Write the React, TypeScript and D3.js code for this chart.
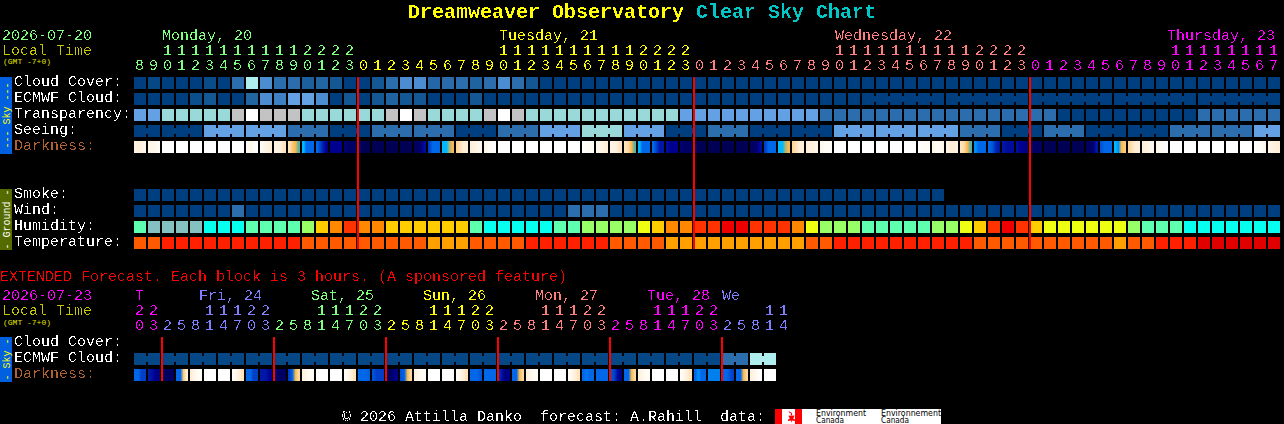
import React from "react";
import * as d3 from "d3";

// ---------- data ----------
const chartTitle = "Dreamweaver Observatory";
const chartSuffix = "Clear Sky Chart";

const mainDays = ["Mon", "Tue", "Wed", "Thu"];
const mainDayLabels = ["Monday, 20", "Tuesday, 21", "Wednesday, 22", "Thursday, 23"];
const mainOnes = ["8901234567890123", "012345678901234567890123", "012345678901234567890123", "012345678901234567"];
const mainTens = ["  11111111112222", "          11111111112222", "          11111111112222", "          11111111"];

const extDays = ["Thu", "Fri", "Sat", "Sun", "Mon", "Tue", "Wed"];
const extDayLabels = ["T", "Fri, 24", "Sat, 25", "Sun, 26", "Mon, 27", "Tue, 28", "We"];
const extOnes = ["03", "25814703", "25814703", "25814703", "25814703", "25814703", "25814"];
const extTens = ["22", "   11122", "   11122", "   11122", "   11122", "   11122", "   11"];

const cloudCover = [0, 0.3, 0, 0, 0, 0.5, 0, 2, 8, 3, 2, 2, 1.3, 1.6, 1, 0, 0, 1, 2, 3, 3, 1.7, 1.9, 2, 1.5, 2, 3, 2, 1,
  0, 0, 0, 0, 0, 0, 0, 0, 0, 0, 0, 0, 0, 0, 0, 0, 0, 0, 0, 0, 0, 0, 0, 0, 0, 0, 0, 0, 0, 0, 0, 0, 0, 0, 0, 0, 0, 0, 0, 0, 0, 0, 0, 0, 0, 0, 0, 0, 0, 0, 0, 0, 0];
const ecmwfCloud = [0, 0, 0, 0, 0.6, 1, 0, 0, 1.6, 3, 2.6, 4, 4, 3, 0, 1, 0, 1, 1.5, 1, 1, 0, 0, 0, 1, 0, 0, 0, 0,
  0, 0, 0, 0, 0, 0, 0, 0, 0, 0, 0, 0, 0, 0, 0, 0, 0, 0, 0, 0, 0, 0, 0, 0, 0, 0, 0, 0, 0, 0, 0, 0, 0, 0, 0, 0, 0, 0, 0, 0, 0, 0, 0, 0, 0, 0, 0, 0, 0, 0, 0, 0, 0];
const transparency = [4, 4, 5, 5, 5, 5, 5, 6, 7, 6, 6, 6, 5, 5, 5, 5, 5, 5, 6, 7, 6, 5, 5, 5, 5, 6, 7, 6,
  5, 5, 5, 5, 5, 5, 5, 5, 5, 5, 5, 4, 4, 4, 4, 4, 4, 4, 4, 4, 4, 2, 2, 2, 2, 2, 2, 2, 2, 2, 2, 2, 2, 2, 2, 2, 2, 2,
  0, 0, 0, 0, 0, 0, 0, 0, 0, 0, 2, 2, 2, 2, 2, 2];
const seeingValues = [0, 0, 0, 0, 0, 4, 4, 4, 4, 4, 4, 2, 2, 2, 0, 0, 0, 2, 2, 2, 2, 2, 2, 0, 0, 0, 2, 2, 2, 4, 4, 4, 5, 5, 5, 4, 4, 4, 0, 0, 0,
  2, 2, 2, 0, 0, 0, 0, 0, 0, 4, 4, 4, 4, 4, 4, 4, 4, 4, 2, 2, 2, 0, 0, 0, 2, 2, 2, 0, 0, 0, 0, 0, 0, 2, 2, 2, 2, 2, 2, 4, 4];
const smokeValues = Array.from("0000000000000000000000000000000000000000000000000000000000", Number);
const windValues = [0, 0, 0, 0, 0, 0, 0, 2, 0, 0, 0, 0, 0, 0, 0, 0, 0, 0, 0, 0, 0, 0, 0, 0, 0, 0, 0, 0, 0, 0, 0, 2, 2, 2,
  0, 0, 0, 0, 0, 0, 0, 0, 0, 0, 0, 0, 0, 0, 0, 0, 0, 0, 0, 0, 0, 0, 0, 0, 0, 0, 0, 0, 0, 0, 0, 0, 0, 0, 0, 0, 0, 0, 0, 0, 0, 0, 0, 0, 0, 0, 0, 0];

const humidity = Array.from("mggggaaammmmlyorooyyyyyymaaaaammllllYyoorrRRrrroYlll");
const humidityTail = Array.from("mmmmmllYyrRryYYYYYYlmmmaaaaaaa");
const temperature = Array.from("11" + "2222222222" + "111111111" + "333" + "1111" + "222222" + "1111" + "3333333333" + "11" + "22" + "22222222" + "1111111111" + "3" + "11" + "222" + "444444");

const darkness: number[][] = [
  [1.5, 2, 1.5, 1], [1, 1, 1, 0.5], [0, 0, 0, 0], [0, 0, 0, 0], [0, 0, 0, 0], [0, 0, 0, 0], [0, 0, 0, 0], [0, 0, 0, 0],
  [0.5, 1, 0.5, 0], [0.5, 1, 1.5, 2], [1, 1.5, 2, 2.5], [2.5, 3.5, 4, 5], [6, 7, 7, 7], [7, 8, 9, 10], [10, 10, 10, 10], [10.5, 11, 11, 11],
  [11, 11.5, 11.5, 11.5], [11.5, 11.5, 11.5, 11.5], [11.5, 11.5, 11.5, 11.5], [11.5, 11.5, 11.5, 11.5], [11, 11, 10.5, 9.5], [8, 7, 7, 7], [6, 6, 4.5, 4], [3, 2.5, 2, 2],
  [2, 1.5, 1, 1], [1, 0.5, 0.5, 0], [0, 0, 0, 0], [0, 0, 0, 0], [0, 0, 0, 0], [0, 0, 0, 0], [0, 0, 0, 0], [0, 0, 0, 0],
  [0, 0.5, 0.5, 0.5], [1, 1, 1.5, 2], [1, 1.5, 2, 2.5], [2.5, 3, 4, 5], [6, 7, 7, 7], [7, 8, 9, 9], [9.5, 10, 10, 10], [10.5, 11, 11, 11],
  [11.5, 11.5, 11.5, 11.5], [11.5, 11.5, 11.5, 11.5], [11.5, 11.5, 11.5, 11.5], [11.5, 11.5, 11.5, 11.5], [11, 11, 10.5, 9.5], [8, 7, 7, 7], [6, 6, 4.5, 4], [3, 2.5, 2, 2],
  [2, 1.5, 1.5, 1], [1, 0.5, 0.5, 0.5], [0, 0, 0, 0], [0, 0, 0, 0], [0, 0, 0, 0], [0, 0, 0, 0], [0, 0, 0, 0], [0, 0, 0, 0],
  [0, 0.5, 0.5, 0.5], [1, 0.5, 0.5, 1], [1.5, 2, 2, 1.5], [2.5, 3, 4, 5], [6.5, 7, 7, 7], [7, 7.5, 8.5, 9], [9, 9.5, 9.5, 9.5], [9.5, 10, 10, 10.5],
  [11, 11, 11, 11], [11.5, 11.5, 11.5, 11.5], [11.5, 11.5, 11.5, 11.5], [11.5, 11.5, 11.5, 11.5], [11, 11, 10.5, 9], [7.5, 7, 7, 7], [6, 6.5, 4, 3.5], [3, 2.5, 2, 2],
  [2, 1.5, 1, 1], [1, 0.5, 0.5, 0], [0, 0, 0, 0], [0, 0, 0, 0], [0, 0, 0, 0], [0, 0, 0, 0], [0, 0, 0, 0], [0, 0, 0, 0],
  [0, 0.5, 0.5, 1], [1, 1.5, 2, 2],
];

const extEcmwf = [0.3, 0.3, 0.3, 0.3, 0.3, 0.3, 0.3, 0.3, 0.3, 0.3, 0.3, 0.3, 0.3, 0.3, 0.3, 0.3, 0.3, 0.3, 0.3, 0.3, 0.3, 0.3, 0.3, 0.3, 0.3, 0.3, 0.3, 0.3, 0.3, 0.3, 0.3, 0.3, 0.3, 0.3, 0.3, 0.3, 0.3, 0.3, 0.3, 0.3, 0.3, 0.3, 2, 2, 8, 8];
const extDarkness: number[][] = [
  [7, 7, 8, 8], [9, 9.5, 10, 10.5], [11, 11, 11, 11], [7, 7, 3.5, 2], [2, 1, 0.5, 0.5], [0, 0, 0, 0], [0, 0, 0, 0], [0.5, 1, 2, 2.5],
  [7, 7, 8, 8], [9, 9, 9.5, 10], [10.5, 11, 11, 11], [8, 7, 4, 3], [1.5, 1, 0.5, 0.5], [0, 0, 0, 0], [0, 0, 0, 0], [0.5, 1, 2, 2.5],
  [7, 7, 7, 7.2], [7.5, 8, 8, 8], [11, 11, 10.5, 10], [7.5, 7, 4, 3], [1.5, 1, 0.5, 0.5], [0, 0, 0, 0], [0, 0, 0, 0], [0.5, 1, 2, 2.5],
  [7, 7, 7, 7.5], [7, 7, 7, 7], [8.5, 9.5, 10.5, 10], [7, 7, 4, 3], [1.5, 1, 0.5, 0.5], [0, 0, 0, 0], [0, 0, 0, 0], [0.5, 1, 2, 2.5],
  [7, 6.8, 7, 7], [7, 7, 7, 7], [7.5, 8, 9.5, 10], [7, 7, 4, 3], [1.5, 1, 0.5, 0.5], [0, 0, 0, 0], [0, 0, 0, 0], [0.5, 1, 2, 2.5],
  [7, 6.5, 7, 7], [6.7, 6.7, 6.7, 6.7], [7, 7, 7.5, 8], [7, 7, 4, 3], [1.5, 1, 0.5, 0], [0, 0, 0, 0],
];

const seeingSpans = [[0, 1], ...d3.range(2, 80, 3).map((k) => [k, k + 2]), [80, 81]];
const ecmwfSpans = [[52, 57], [58, 63], [64, 69], [70, 75], [76, 81]];
const extSpans = d3.range(0, 46, 2).map((k) => [k, k + 1]);
const midnightCells = [16, 40, 64];
const extMidnightCells = [2, 10, 18, 26, 34, 42];

// ---------- palettes & scales ----------
const mainColor = (d: string) => ({ Mon: "#7fff7f", Tue: "#ffff00", Wed: "#ff7f7f", Thu: "#ff00ff" } as Record<string, string>)[d];
const extColor = (d: string) => ({ Thu: "#ff00ff", Fri: "#7f7fff", Sat: "#7fff7f", Sun: "#ffff00", Mon: "#ff7f7f", Tue: "#ff00ff", Wed: "#7f7fff" } as Record<string, string>)[d];

const skyColor = d3.scaleLinear<string>()
  .domain([0, 1, 2, 3, 4, 5, 6, 7, 8])
  .range(["#003f7f", "#135895", "#2c6ead", "#4c8cd0", "#63a0e4", "#99d9d9", "#c3c3c3", "#ffffff", "#aeeeee"]);
const humidityColor = d3.scaleOrdinal<string, string>()
  .domain(["m", "g", "a", "l", "y", "o", "r", "R", "Y"])
  .range(["#5fffb0", "#85c1c1", "#06ffee", "#99ff66", "#ffcc00", "#ff8800", "#ff3300", "#ee0000", "#eeff11"]);
const temperatureColor = d3.scaleOrdinal<string, string>()
  .domain(["1", "2", "3", "4"])
  .range(["#ff5a00", "#ff2000", "#ffa000", "#e00000"]);
const darkColor = d3.scaleLinear<string>()
  .domain([0, 1, 2, 3, 4, 5, 6, 7, 8, 9, 10, 11, 12])
  .range(["#ffffff", "#fff6ea", "#ffeed8", "#ffd79e", "#f8b850", "#60b0a0", "#00b8ff", "#0068e8", "#0040c8", "#0018a8", "#000090", "#000062", "#000048"]);

const PITCH = 14;
const CELL = 12;
const x = d3.scaleLinear().domain([0, 1]).range([134, 134 + PITCH]);
const MONO = "'Liberation Mono', monospace";

const T = (p: any) => (
  <text fontFamily={MONO} fontSize={15} filter="url(#crisp)" style={{ whiteSpace: "pre" }} {...p} />
);

function Cells({ y, colors, spans }: { y: number; colors: string[]; spans?: number[][] }) {
  return (
    <g>
      {colors.map((c, k) => (
        <rect key={k} x={x(k)} y={y} width={CELL} height={CELL} fill={c} />
      ))}
      {(spans ?? []).flatMap(([a, b]) =>
        d3.range(a, b).map((k) => (
          <rect key={`j${k}`} x={x(k) + CELL} y={y + 3} width={PITCH - CELL} height={CELL - 6} fill={colors[k]} />
        ))
      )}
    </g>
  );
}

function Dark({ y, rows, id }: { y: number; rows: number[][]; id: string }) {
  return (
    <g>
      <defs>
        {rows.map((r, k) => (
          <linearGradient key={k} id={`${id}${k}`} x1="0" x2="1" y1="0" y2="0">
            {r.map((v, i) => (
              <stop key={i} offset={(i + 0.5) / r.length} stopColor={darkColor(v)} />
            ))}
          </linearGradient>
        ))}
      </defs>
      {rows.map((_, k) => (
        <rect key={k} x={x(k)} y={y} width={CELL} height={CELL} fill={`url(#${id}${k})`} />
      ))}
    </g>
  );
}

function Hours({ days, rows, color, y, start = 0 }: { days: string[]; rows: string[]; color: (d: string) => string; y: number; start?: number }) {
  let k = start;
  const out: React.ReactNode[] = [];
  rows.forEach((row, i) => {
    Array.from(row).forEach((ch) => {
      if (ch !== " ") {
        out.push(
          <T key={k} x={x(k) + 5.5} y={y} textAnchor="middle" fill={color(days[i])}>{ch}</T>
        );
      }
      k += 1;
    });
  });
  return <g>{out}</g>;
}

function SideBar({ y, h, fill, text, color }: { y: number; h: number; fill: string; text: string; color: string }) {
  return (
    <g>
      <rect x={0} y={y} width={12} height={h} fill={fill} />
      <text
        transform={`translate(9.5,${y + h / 2}) rotate(-90)`}
        textAnchor="middle"
        fontFamily={MONO}
        fontSize={10}
        fill={color}
        style={{ whiteSpace: "pre" }}
      >
        {text}
      </text>
    </g>
  );
}

export default function App() {
  const mainLabelRows = [
    ["Cloud Cover:", 77, "#fff"], ["ECMWF Cloud:", 93, "#fff"], ["Transparency:", 109, "#fff"], ["Seeing:", 125, "#fff"], ["Darkness:", 141, "#b0622f"],
    ["Smoke:", 189, "#fff"], ["Wind:", 205, "#fff"], ["Humidity:", 221, "#fff"], ["Temperature:", 237, "#fff"],
    ["Cloud Cover:", 337, "#fff"], ["ECMWF Cloud:", 353, "#fff"], ["Darkness:", 369, "#b0622f"],
  ] as [string, number, string][];
  const mainDayX = [162, 499, 835, 1167];
  const extDayX = [135, 199, 311, 423, 535, 647, 722];
  return (
    <svg width={1284} height={424} style={{ position: "absolute", left: 0, top: 0, background: "#000" }}>
      <defs>
        <filter id="crisp" x="-20%" y="-20%" width="140%" height="140%" colorInterpolationFilters="sRGB">
          <feComponentTransfer>
            <feFuncA type="discrete" tableValues="0 0 0 1 1" />
          </feComponentTransfer>
        </filter>
      </defs>
      <rect width={1284} height={424} fill="#000" />
      <text y={18} fontFamily={MONO} fontSize={20} fontWeight="bold" fill="#ffff00" x={408} filter="url(#crisp)">{chartTitle}</text>
      <text y={18} fontFamily={MONO} fontSize={20} fontWeight="bold" fill="#00c8c8" x={696} filter="url(#crisp)">{chartSuffix}</text>

      <T x={2} y={40} fill="#7fff7f">2026-07-20</T>
      <T x={2} y={55} fill="#c8c800">Local Time</T>
      <text x={3} y={64} fontFamily={MONO} fontSize={8} fill="#e0e000">(GMT -7+0)</text>
      {mainDayLabels.map((d, i) => (
        <T key={d} x={mainDayX[i]} y={40} fill={mainColor(mainDays[i])}>{d}</T>
      ))}
      <Hours days={mainDays} rows={mainTens} color={mainColor} y={55} />
      <Hours days={mainDays} rows={mainOnes} color={mainColor} y={69.5} />

      <SideBar y={77} h={77} fill="#0060e0" text="--- Sky ---" color="#ffff00" />
      <SideBar y={189} h={61} fill="#556b00" text="- Ground -" color="#ffffff" />
      <SideBar y={337} h={45} fill="#0060e0" text="- Sky -" color="#ffff00" />

      {mainLabelRows.map(([t, y, c], i) => (
        <T key={i} x={14} y={y + 8.5} fill={c}>{t}</T>
      ))}

      <Cells y={77} colors={cloudCover.map((v) => skyColor(v))} />
      <Cells y={93} colors={ecmwfCloud.map((v) => skyColor(v))} spans={ecmwfSpans} />
      <Cells y={109} colors={transparency.map((v) => skyColor(v))} />
      <Cells y={125} colors={seeingValues.map((v) => skyColor(v))} spans={seeingSpans} />
      <Dark y={141} rows={darkness} id="dk" />

      <Cells y={189} colors={smokeValues.map((v) => skyColor(v))} />
      <Cells y={205} colors={windValues.map((v) => skyColor(v))} />
      <Cells y={221} colors={[...humidity, ...humidityTail].map((v) => humidityColor(v))} />
      <Cells y={237} colors={temperature.map((v) => temperatureColor(v))} />

      {midnightCells.map((k) => (
        <rect key={k} x={x(k) - 1} y={77} width={2} height={172} fill="#ff0000" />
      ))}

      <T x={0} y={281} fill="#ff0000">EXTENDED Forecast. Each block is 3 hours. (A sponsored feature)</T>
      <T x={2} y={300} fill="#ff00ff">2026-07-23</T>
      <T x={2} y={315} fill="#c8c800">Local Time</T>
      <text x={3} y={324.5} fontFamily={MONO} fontSize={8} fill="#e0e000">(GMT -7+0)</text>
      {extDayLabels.map((d, i) => (
        <T key={i} x={extDayX[i]} y={300} fill={extColor(extDays[i])}>{d}</T>
      ))}
      <Hours days={extDays} rows={extTens} color={extColor} y={315} />
      <Hours days={extDays} rows={extOnes} color={extColor} y={330} />

      <Cells y={353} colors={extEcmwf.map((v) => skyColor(v))} spans={extSpans} />
      <Dark y={369} rows={extDarkness} id="xd" />
      {extMidnightCells.map((k) => (
        <rect key={k} x={x(k) - 1} y={337} width={2} height={44} fill="#ff0000" />
      ))}

      <T x={342} y={420.5} fill="#fff">© 2026 Attilla Danko  forecast: A.Rahill  data:</T>

      <g>
        <rect x={775} y={409} width={166} height={15} fill="#fff" />
        <rect x={775} y={409} width={7} height={15} fill="#ff0000" />
        <rect x={795} y={409} width={7} height={15} fill="#ff0000" />
        <path d="M788.5 411l1.4 2.4 1.2-.6-.4 3 1.5-1 .3 1 2-.3-.6 2-1 .6 2.3 2-.3.8-3-.4-.1 1.8h-.6l-.1-1.8-3 .4-.3-.8 2.3-2-1-.6-.6-2 2 .3.3-1 1.5 1-.4-3 1.2.6z" fill="#ff0000" />
        <text x={816} y={416} fontFamily="'DejaVu Sans', sans-serif" fontSize={8} fill="#000" textLength={50} lengthAdjust="spacingAndGlyphs">Environment</text>
        <text x={816} y={423} fontFamily="'DejaVu Sans', sans-serif" fontSize={8} fill="#000" textLength={28} lengthAdjust="spacingAndGlyphs">Canada</text>
        <text x={881} y={416} fontFamily="'DejaVu Sans', sans-serif" fontSize={8} fill="#000" textLength={60} lengthAdjust="spacingAndGlyphs">Environnement</text>
        <text x={881} y={423} fontFamily="'DejaVu Sans', sans-serif" fontSize={8} fill="#000" textLength={28} lengthAdjust="spacingAndGlyphs">Canada</text>
      </g>
    </svg>
  );
}
